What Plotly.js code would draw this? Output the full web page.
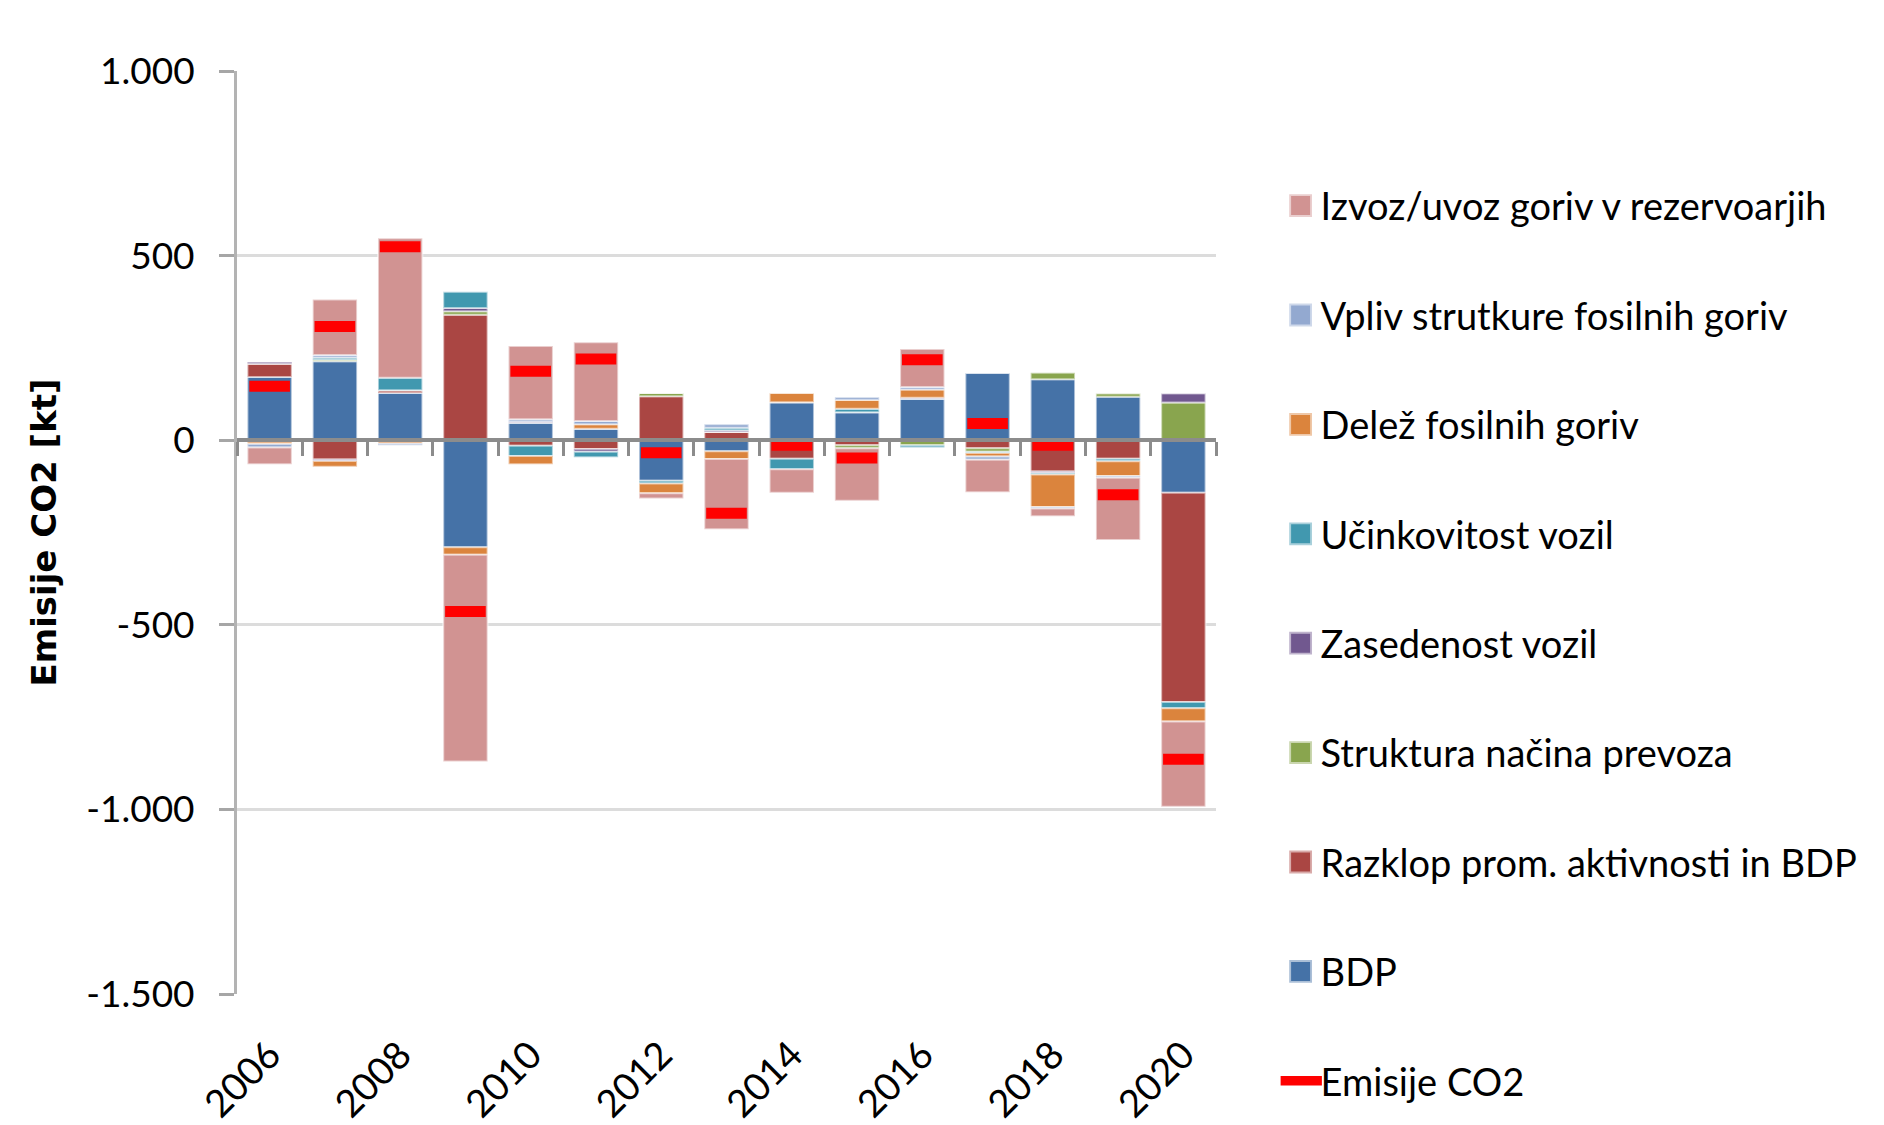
<!DOCTYPE html>
<html>
<head>
<meta charset="utf-8">
<script src="https://cdn.plot.ly/plotly-3.0.1.min.js"></script>
<style>
  html, body { margin: 0; padding: 0; background: #fff; }
  #chart { width: 1884px; height: 1125px; }
</style>
</head>
<body>
<div id="chart"></div>
<script>
// leta
const years = [2006, 2007, 2008, 2009, 2010, 2011, 2012, 2013, 2014, 2015, 2016, 2017, 2018, 2019, 2020];

// prispevki k spremembi emisij [kt]
const bdp          = [171, 214, 128, -290, 47, 31, -110, -30, 103, 76, 112, 182, 165, 118, -142];
const razklop      = [36, -52, 7, 340, -15, -24, 119, 22, -50, -14, 0, -22, -85, -50, -567];
const struktura    = [0, 4, 0, 9, 0, 0, 9, 0, 0, -8, -14, -9, 18, 9, 102];
const zasedenost   = [5, -4, 0, 9, 3, -7, 0, 5, 0, 0, 3, 0, -4, 0, 25];
const ucinkovitost = [-4, 6, 34, 45, -28, -15, -7, 7, -29, 9, -6, -4, -4, -7, -17];
const delez        = [-6, -16, -9, -20, -22, 12, -27, -21, 25, 24, 22, -9, -88, -40, -36];
const vpliv        = [-10, 7, -5, 0, 7, 9, 0, 9, 0, 7, 7, -9, -4, -5, 0];
const izvoz        = [-45, 150, 378, -560, 198, 213, -14, -190, -63, -142, 103, -88, -21, -168, -231];
const emisije      = [146, 308, 524, -464, 187, 220, -34, -198, -14, -48, 218, 45, -14, -148, -864];

// oznake osi
const yTicks = [-1500, -1000, -500, 0, 500, 1000];
const yTickText = ['-1.500', '-1.000', '-500', '0', '500', '1.000'];
const xTicks = [2006, 2008, 2010, 2012, 2014, 2016, 2018, 2020];
const boundaries = [];
for (let i = 0; i <= years.length; i++) boundaries.push(years[0] - 0.5 + i);

const font = 'Lato, "Liberation Sans", sans-serif';

function makeBar(name, values, color, rank) {
    return {
        type: 'bar',
        name: name,
        x: years,
        y: values,
        width: 0.68,
        marker: { color: color, line: { color: 'rgba(255,255,255,0.55)', width: 2 } },
        legendgroup: name,
        legendrank: rank,
        hoverinfo: 'name+y'
    };
}

const traces = [
    makeBar('BDP', bdp, '#4572A7', 8),
    makeBar('Razklop prom. aktivnosti in BDP', razklop, '#AA4643', 7),
    makeBar('Struktura načina prevoza', struktura, '#89A54E', 6),
    makeBar('Zasedenost vozil', zasedenost, '#71588F', 5),
    makeBar('Učinkovitost vozil', ucinkovitost, '#4198AF', 4),
    makeBar('Delež fosilnih goriv', delez, '#DB843D', 3),
    makeBar('Vpliv strutkure fosilnih goriv', vpliv, '#93A9D0', 2),
    makeBar('Izvoz/uvoz goriv v rezervoarjih', izvoz, '#D19392', 1),
    {
        type: 'scatter',
        mode: 'markers',
        name: 'Emisije CO2',
        x: years,
        y: emisije,
        marker: { symbol: 'line-ew', size: 29, color: '#FF0000', line: { color: '#FF0000', width: 11 } },
        legendgroup: 'Emisije CO2',
        legendrank: 9
    },
    // prazna sled, da se nariše os z oznakami na ničli
    {
        type: 'scatter',
        x: [years[0]],
        y: [null],
        xaxis: 'x2',
        showlegend: false,
        hoverinfo: 'skip'
    }
];

const layout = {
    width: 1884,
    height: 1125,
    margin: { l: 237, r: 668, t: 71, b: 131 },
    paper_bgcolor: '#fff',
    plot_bgcolor: '#fff',
    font: { family: font, size: 36, color: '#000' },
    barmode: 'relative',
    showlegend: true,
    legend: {
        x: 1.066,
        xanchor: 'left',
        y: 0.888,
        yanchor: 'top',
        traceorder: 'grouped',
        tracegroupgap: 57,
        maxheight: 1100,
        font: { family: font, size: 38, color: '#000' },
        bgcolor: 'rgba(0,0,0,0)'
    },
    xaxis: {
        range: [2005.5, 2020.5],
        tickmode: 'array',
        tickvals: xTicks,
        ticktext: xTicks.map(String),
        tickangle: -45,
        ticks: '',
        ticklabelstandoff: 30,
        showline: false,
        showgrid: false,
        zeroline: false,
        tickfont: { family: font, size: 38, color: '#000' }
    },
    xaxis2: {
        overlaying: 'x',
        anchor: 'free',
        position: 0.6,
        side: 'bottom',
        range: [2005.5, 2020.5],
        tickmode: 'array',
        tickvals: boundaries,
        ticks: 'outside',
        ticklen: 14,
        tickwidth: 3,
        tickcolor: '#8c8c8c',
        showticklabels: false,
        showline: true,
        linecolor: '#8c8c8c',
        linewidth: 4,
        showgrid: false,
        zeroline: false,
        layer: 'above traces'
    },
    yaxis: {
        range: [-1500, 1000],
        tickmode: 'array',
        tickvals: yTicks,
        ticktext: yTickText,
        ticks: 'outside',
        ticklen: 15,
        tickwidth: 3,
        tickcolor: '#a6a6a6',
        ticklabelstandoff: 17,
        showline: true,
        linecolor: '#b3b3b3',
        linewidth: 3,
        showgrid: true,
        gridcolor: '#dcdcdc',
        gridwidth: 3,
        zeroline: false,
        tickfont: { family: font, size: 37, color: '#000' },
        title: {
            text: 'Emisije CO2 [kt]',
            font: { family: '"DejaVu Sans", sans-serif', size: 34, color: '#000', weight: 'bold' },
            standoff: 20
        }
    }
};

Plotly.newPlot('chart', traces, layout, { displayModeBar: false, staticPlot: true }).then(function () {
    // večji simboli v legendi, kot v izvirniku
    document.querySelectorAll('.legend .legendpoints').forEach(function (g) {
        g.setAttribute('transform', 'translate(20,0) scale(1.9) translate(-20,0)');
    });
});
</script>
</body>
</html>
